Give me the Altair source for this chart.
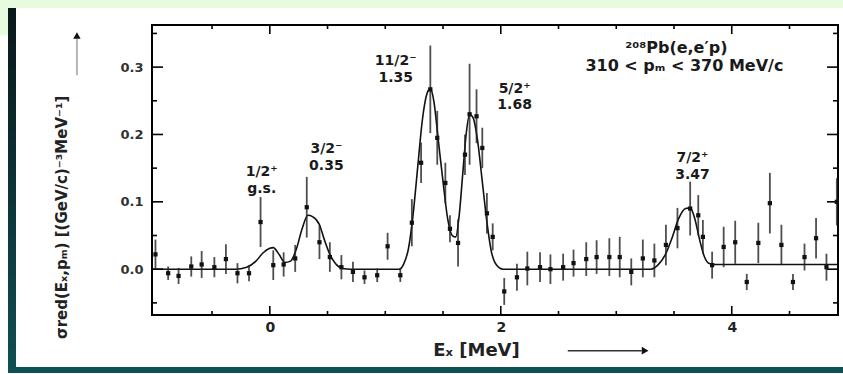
import altair as alt
import pandas as pd

# ---------------- data ----------------
E_pts = [-0.99, -0.88, -0.79, -0.68, -0.59, -0.48, -0.38, -0.28, -0.18, -0.08, 0.03, 0.12,
         0.22, 0.32, 0.43, 0.52, 0.62, 0.72, 0.82, 0.93, 1.02, 1.13,
         1.23, 1.31, 1.39, 1.45, 1.52, 1.56, 1.63, 1.69, 1.73, 1.79, 1.84, 1.88, 1.93,
         2.03, 2.14, 2.23, 2.34,
         2.43, 2.54, 2.63, 2.74, 2.83, 2.94, 3.03, 3.13, 3.23, 3.33, 3.43, 3.53, 3.64,
         3.71, 3.75, 3.83, 3.93, 4.03, 4.13, 4.23, 4.33, 4.43, 4.53, 4.63, 4.73, 4.82, 4.91]
sigma_pts = [0.022, -0.006, -0.010, 0.004, 0.007, 0.003, 0.015, -0.006, -0.006, 0.070, 0.006, 0.007,
             0.016, 0.092, 0.040, 0.018, 0.003, -0.004, -0.012, -0.009, 0.034, -0.009,
             0.069, 0.158, 0.267, 0.195, 0.128, 0.060, 0.039, 0.170, 0.230, 0.227, 0.180, 0.083, 0.048,
             -0.033, -0.012, 0.001, 0.003,
             0.000, 0.003, 0.009, 0.015, 0.018, 0.018, 0.018, -0.004, 0.016, 0.013, 0.036, 0.061, 0.090,
             0.080, 0.048, 0.006, 0.033, 0.040, -0.019, 0.039, 0.098, 0.036, -0.019, 0.018, 0.046, 0.003, 0.100]
err_pts = [0.022, 0.010, 0.012, 0.015, 0.020, 0.015, 0.022, 0.015, 0.012, 0.037, 0.022, 0.018,
           0.020, 0.045, 0.025, 0.022, 0.018, 0.015, 0.010, 0.010, 0.020, 0.010,
           0.035, 0.030, 0.065, 0.040, 0.030, 0.020, 0.035, 0.030, 0.075, 0.040, 0.030, 0.030, 0.020,
           0.020, 0.020, 0.025, 0.022,
           0.022, 0.020, 0.020, 0.025, 0.025, 0.028, 0.030, 0.020, 0.028, 0.025, 0.030, 0.030, 0.040,
           0.030, 0.025, 0.020, 0.030, 0.032, 0.012, 0.030, 0.045, 0.030, 0.012, 0.020, 0.030, 0.020, 0.035]

E_fit = [-1.02, -0.30, -0.20, -0.12, -0.06, 0.00, 0.03, 0.08, 0.13, 0.18, 0.23, 0.28, 0.33, 0.37,
         0.43, 0.47, 0.52, 0.57, 0.63, 0.70, 1.12, 1.16, 1.20, 1.24, 1.28, 1.32, 1.36, 1.39, 1.42,
         1.46, 1.50, 1.54, 1.58, 1.61, 1.64, 1.67, 1.70, 1.73, 1.76, 1.80, 1.84, 1.88, 1.92, 1.96,
         2.02, 3.30, 3.36, 3.42, 3.48, 3.54, 3.60, 3.64, 3.68, 3.72, 3.76, 3.80, 3.86, 4.92]
sigma_fit = [0.0, 0.0, 0.003, 0.012, 0.024, 0.031, 0.032, 0.022, 0.010, 0.012, 0.030, 0.060, 0.080, 0.078,
             0.066, 0.045, 0.022, 0.008, 0.001, 0.0, 0.0, 0.008, 0.030, 0.080, 0.150, 0.220, 0.260, 0.268, 0.250,
             0.190, 0.130, 0.075, 0.050, 0.048, 0.080, 0.140, 0.200, 0.230, 0.225, 0.190, 0.130, 0.070, 0.025, 0.007,
             0.0, 0.0, 0.006, 0.020, 0.045, 0.075, 0.090, 0.091, 0.075, 0.045, 0.020, 0.009, 0.007, 0.007]

label_text = ["1/2⁺", "g.s.", "3/2⁻", "0.35", "11/2⁻", "1.35", "5/2⁺", "1.68", "7/2⁺", "3.47"]
label_E = [-0.07, -0.07, 0.49, 0.49, 1.09, 1.09, 2.12, 2.12, 3.66, 3.66]
label_y = [0.144, 0.119, 0.178, 0.153, 0.309, 0.284, 0.268, 0.243, 0.165, 0.140]

head_text = ["²⁰⁸Pb(e,e′p)", "310 < pₘ < 370 MeV/c"]
head_E = [3.52, 3.59]
head_y = [0.329, 0.301]

x_major = [0, 2, 4]
x_minor = [-0.5, 0.5, 1, 1.5, 2.5, 3, 3.5, 4.5]
y_major = [0.0, 0.1, 0.2, 0.3]
y_minor = [-0.05, 0.05, 0.15, 0.25, 0.35]

# ---------------- chart ----------------
W, H = 686, 290
FONT = "DejaVu Sans"
xs = alt.Scale(domain=[-1.02, 4.92], nice=False, zero=False)
ys = alt.Scale(domain=[-0.068, 0.3625], nice=False, zero=False)

pts = pd.DataFrame({"E": E_pts, "s": sigma_pts, "err": err_pts})
pts["lo"] = pts["s"] - pts["err"]
pts["hi"] = pts["s"] + pts["err"]
fit = pd.DataFrame({"E": E_fit, "s": sigma_fit})
labels = pd.DataFrame({"E": label_E, "s": label_y, "t": label_text})
heads = pd.DataFrame({"E": head_E, "s": head_y, "t": head_text})
one = pd.DataFrame({"a": [0]})

main_x = alt.Axis(values=x_major, format="d", ticks=False, domain=False, grid=False, title=None,
                  labelFont=FONT, labelFontSize=14, labelFontWeight="bold", labelColor="#222",
                  labelPadding=5)
main_y = alt.Axis(values=y_major, format=".1f", ticks=False, domain=False, grid=False, title=None,
                  labelFont=FONT, labelFontSize=13, labelFontWeight="bold", labelColor="#333",
                  labelPadding=9)


def xticks(values, length):
    d = pd.DataFrame({"E": values})
    bottom = alt.Chart(d).mark_rule(color="black", strokeWidth=1.6).encode(
        x=alt.X("E:Q", scale=xs, axis=None), y=alt.value(H), y2=alt.value(H - length))
    top = alt.Chart(d).mark_rule(color="black", strokeWidth=1.6).encode(
        x=alt.X("E:Q", scale=xs, axis=None), y=alt.value(0), y2=alt.value(length))
    return [bottom, top]


def yticks(values, length):
    d = pd.DataFrame({"s": values})
    left = alt.Chart(d).mark_rule(color="black", strokeWidth=1.6).encode(
        y=alt.Y("s:Q", scale=ys, axis=None), x=alt.value(0), x2=alt.value(length))
    right = alt.Chart(d).mark_rule(color="black", strokeWidth=1.6).encode(
        y=alt.Y("s:Q", scale=ys, axis=None), x=alt.value(W), x2=alt.value(W - length))
    return [left, right]


# decorations (page frame of the scan)
green_top = alt.Chart(one).mark_rect(color="#e7fbdf").encode(
    x=alt.value(-152), x2=alt.value(691), y=alt.value(-25), y2=alt.value(-17))
green_left = alt.Chart(one).mark_rect(color="#e7fbdf").encode(
    x=alt.value(-152), x2=alt.value(-144), y=alt.value(-25), y2=alt.value(10))
dark_left = alt.Chart(one).mark_rect(
    fill=alt.LinearGradient(gradient="linear",
                            stops=[alt.GradientStop(color="#0a171a", offset=0),
                                   alt.GradientStop(color="#0f4f52", offset=1)],
                            x1=0, x2=0, y1=0, y2=1)).encode(
    x=alt.value(-144), x2=alt.value(-136), y=alt.value(-17), y2=alt.value(347))
dark_bottom = alt.Chart(one).mark_rect(color="#0f5053").encode(
    x=alt.value(-144), x2=alt.value(691), y=alt.value(342), y2=alt.value(348))

curve = alt.Chart(fit).mark_line(color="#111", strokeWidth=1.6, interpolate="monotone").encode(
    x=alt.X("E:Q", scale=xs, axis=main_x),
    y=alt.Y("s:Q", scale=ys, axis=main_y))

bars = alt.Chart(pts).mark_rule(color="#222", strokeWidth=1.8, opacity=0.8).encode(
    x=alt.X("E:Q", scale=xs, axis=None),
    y=alt.Y("lo:Q", scale=ys, axis=None),
    y2="hi:Q")

points = alt.Chart(pts).mark_square(color="#111", size=18, opacity=1).encode(
    x=alt.X("E:Q", scale=xs, axis=None),
    y=alt.Y("s:Q", scale=ys, axis=None))

peak_labels = alt.Chart(labels).mark_text(font=FONT, fontSize=14, fontWeight="bold",
                                          color="#1a1a1a", baseline="middle").encode(
    x=alt.X("E:Q", scale=xs, axis=None),
    y=alt.Y("s:Q", scale=ys, axis=None),
    text="t:N")

head_labels = alt.Chart(heads).mark_text(font=FONT, fontSize=16, fontWeight="bold",
                                         color="#1a1a1a", baseline="middle").encode(
    x=alt.X("E:Q", scale=xs, axis=None),
    y=alt.Y("s:Q", scale=ys, axis=None),
    text="t:N")

ytitle = alt.Chart(pd.DataFrame({"E": [-1.80], "s": [0.077],
                                 "t": ["σred(Eₓ,pₘ)  [(GeV/c)⁻³MeV⁻¹]"]})).mark_text(
    font=FONT, fontSize=15, fontWeight="bold", color="#222", angle=270, baseline="middle").encode(
    x=alt.X("E:Q", scale=xs, axis=None), y=alt.Y("s:Q", scale=ys, axis=None), text="t:N")

xtitle = alt.Chart(pd.DataFrame({"E": [1.79], "s": [-0.121], "t": ["Eₓ  [MeV]"]})).mark_text(
    font=FONT, fontSize=18, fontWeight="bold", color="#222", baseline="middle").encode(
    x=alt.X("E:Q", scale=xs, axis=None), y=alt.Y("s:Q", scale=ys, axis=None), text="t:N")

xarrow = alt.Chart(pd.DataFrame({"E": [2.58], "E2": [3.22], "s": [-0.121]})).mark_rule(
    color="#333", strokeWidth=1.5).encode(
    x=alt.X("E:Q", scale=xs, axis=None), x2="E2:Q", y=alt.Y("s:Q", scale=ys, axis=None))
xhead = alt.Chart(pd.DataFrame({"E": [3.25], "s": [-0.121]})).mark_point(
    shape="triangle-right", filled=True, color="#111", size=60, opacity=1).encode(
    x=alt.X("E:Q", scale=xs, axis=None), y=alt.Y("s:Q", scale=ys, axis=None))

yarrow = alt.Chart(pd.DataFrame({"E": [-1.67], "s": [0.288], "s2": [0.342]})).mark_rule(
    color="#b5b5b5", strokeWidth=2).encode(
    x=alt.X("E:Q", scale=xs, axis=None), y=alt.Y("s:Q", scale=ys, axis=None), y2="s2:Q")
yhead = alt.Chart(pd.DataFrame({"E": [-1.67], "s": [0.347]})).mark_point(
    shape="triangle-up", filled=True, color="#111", size=55, opacity=1).encode(
    x=alt.X("E:Q", scale=xs, axis=None), y=alt.Y("s:Q", scale=ys, axis=None))

tick_layers = xticks(x_major, 9) + xticks(x_minor, 4) + yticks(y_major, 11) + yticks(y_minor, 5)

chart = alt.layer(
    green_top, green_left, dark_left, dark_bottom,
    curve, *tick_layers, bars, points, peak_labels, head_labels,
    ytitle, xtitle, xarrow, xhead, yarrow, yhead
).resolve_axis(x="independent", y="independent").properties(
    width=W, height=H,
    autosize=alt.AutoSizeParams(type="none"),
    padding={"left": 152, "top": 25, "right": 5, "bottom": 59},
    background="white",
).configure_view(stroke="black", strokeWidth=2)

chart.save("out.html", embed_options={"renderer": "svg", "actions": False})
